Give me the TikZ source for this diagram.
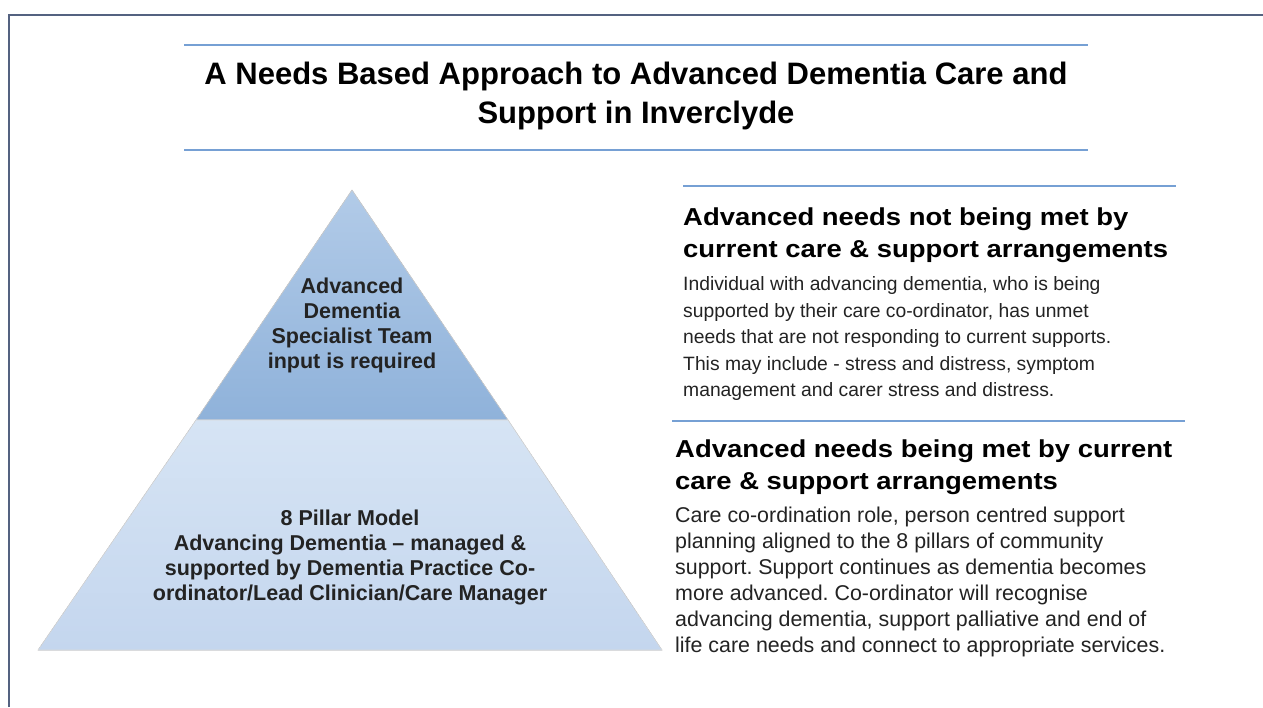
\documentclass[tikz,border=0pt]{standalone}
\usepackage{fontspec}
\setmainfont{Liberation Sans}
\newfontfamily\headfont[FakeStretch=1.12]{Liberation Sans}
\usetikzlibrary{positioning}
\frenchspacing
\definecolor{framegrey}{RGB}{84,98,128}
\definecolor{ruleblue}{RGB}{118,160,212}
\definecolor{tiplight}{RGB}{178,203,232}
\definecolor{tipdark}{RGB}{143,178,218}
\definecolor{baselight}{RGB}{214,228,244}
\definecolor{basedark}{RGB}{196,214,238}
\definecolor{inkgrey}{RGB}{35,35,35}

\begin{document}
\begin{tikzpicture}[x=1pt, y=-1pt,
		bluerule/.style = {draw=ruleblue, line width=2.5pt},
		tiertext/.style = {align=center, inner sep=0pt, text=inkgrey, font=\bfseries\fontsize{21.5}{25}\selectfont},
		needhead/.style = {align=left, inner sep=0pt, anchor=north west, font=\headfont\bfseries\fontsize{24.5}{32}\selectfont},
		needbody/.style = {align=left, inner sep=0pt, text=inkgrey, font=\fontsize{19.3}{26.5}\selectfont}]
	\useasboundingbox (0,0) rectangle (1263,707);
	\fill[white] (0,0) rectangle (1263,707);
	\draw[framegrey, line width=2pt] (9,707) -- (9,15) -- (1263,15);

	% title
	\draw[bluerule] (184,45) -- (1088,45);
	\draw[bluerule] (184,150) -- (1088,150);
	\node[align=center, inner sep=0pt, font=\bfseries\fontsize{31}{39}\selectfont] (title) at (636,96)
		{A Needs Based Approach to Advanced Dementia Care and\\Support in Inverclyde};

	% pyramid
	\coordinate (apex) at (352,190);
	\coordinate (midL) at (196,420);
	\coordinate (midR) at (508,420);
	\coordinate (baseL) at (38,650);
	\coordinate (baseR) at (662,650);
	\fill[top color=tiplight, bottom color=tipdark, draw=black!18, line width=0.6pt] (apex) -- (midR) -- (midL) -- cycle;
	\fill[top color=baselight, bottom color=basedark, draw=black!15, line width=0.6pt] (midL) -- (midR) -- (baseR) -- (baseL) -- cycle;
	\node[tiertext] (tip) at (352,325) {Advanced\\Dementia\\Specialist Team\\input is required};
	\node[tiertext] (base) at (350,557) {8 Pillar Model\\Advancing Dementia -- managed \&\\supported by Dementia Practice Co-\\ordinator/Lead Clinician/Care Manager};

	% unmet needs
	\draw[bluerule] (683,186) -- (1176,186);
	\node[needhead] (unmethead) at (683,208) {Advanced needs not being met by\\current care \& support arrangements};
	\node[needbody, below=13pt of unmethead.south west, anchor=north west] (unmetbody)
		{Individual with advancing dementia, who is being\\supported by their care co-ordinator, has unmet\\needs that are not responding to current supports.\\This may include - stress and distress, symptom\\management and carer stress and distress.};

	% met needs
	\draw[bluerule] (672,421) -- (1185,421);
	\node[needhead] (methead) at (675,440) {Advanced needs being met by current\\care \& support arrangements};
	\node[needbody, font=\fontsize{21.4}{26}\selectfont, below=11pt of methead.south west, anchor=north west] (metbody)
		{Care co-ordination role, person centred support\\planning aligned to the 8 pillars of community\\support. Support continues as dementia becomes\\more advanced. Co-ordinator will recognise\\advancing dementia, support palliative and end of\\life care needs and connect to appropriate services.};
\end{tikzpicture}
\end{document}
